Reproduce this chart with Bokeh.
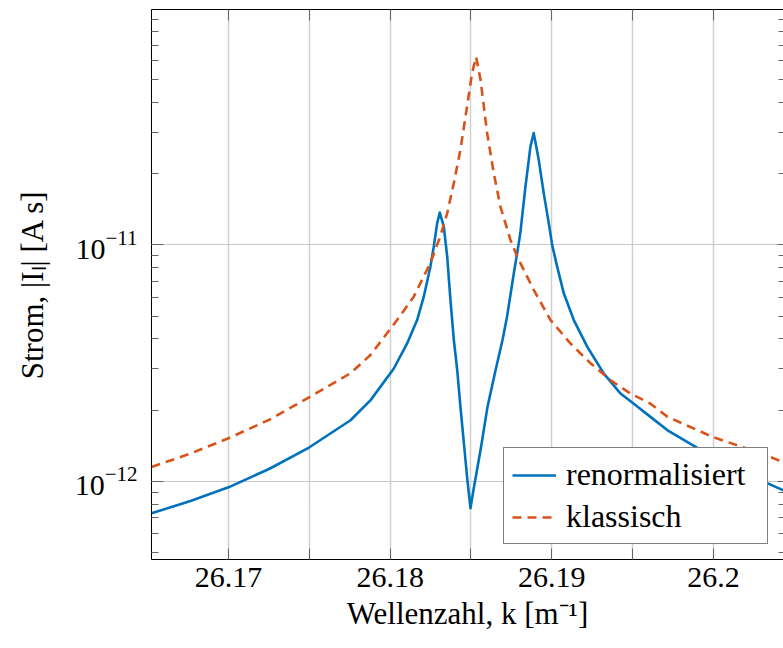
from bokeh.plotting import figure
from bokeh.models import (Range1d, FixedTicker, CustomJSTickFormatter, LinearAxis,
                          LogAxis, LogTicker, Legend, LegendItem)
from bokeh.embed import file_html
from bokeh.resources import INLINE

# ---- data ----
k_ren = [26.16524, 26.16765, 26.17000, 26.17254, 26.17501, 26.17755, 26.17878,
         26.18023, 26.18105, 26.18167, 26.18208, 26.18249, 26.18270, 26.18291,
         26.18307, 26.18332, 26.18353, 26.18373, 26.18394, 26.18415, 26.18435,
         26.18478, 26.18497, 26.18515, 26.18559, 26.18602, 26.18652, 26.18695,
         26.18723, 26.18765, 26.18794, 26.18806, 26.18837, 26.18868, 26.18888,
         26.18919, 26.18950, 26.18981, 26.19002, 26.19033, 26.19074, 26.19136,
         26.19219, 26.19321, 26.19425, 26.19507, 26.19610, 26.19716, 26.20000,
         26.20291, 26.20433]
i_ren = [7.32e-13, 8.26e-13, 9.43e-13, 1.13e-12, 1.393e-12, 1.813e-12, 2.20e-12,
         3.00e-12, 3.83e-12, 4.81e-12, 6.04e-12, 8.09e-12, 9.84e-12, 1.236e-11,
         1.370e-11, 1.195e-11, 8.92e-12, 5.85e-12, 3.96e-12, 2.95e-12, 2.06e-12,
         1.01e-12, 7.69e-13, 9.16e-13, 1.353e-12, 2.06e-12, 2.95e-12, 3.96e-12,
         4.97e-12, 7.59e-12, 1.0e-11, 1.135e-11, 1.766e-11, 2.61e-11, 2.973e-11,
         2.29e-11, 1.656e-11, 1.236e-11, 1.0e-11, 8.09e-12, 6.24e-12, 4.81e-12,
         3.71e-12, 2.86e-12, 2.35e-12, 2.13e-12, 1.873e-12, 1.644e-12, 1.264e-12,
         1.01e-12, 9.16e-13]

k_kla = [26.16524, 26.16765, 26.17000, 26.17254, 26.17501, 26.17755, 26.17878,
         26.17940, 26.18043, 26.18146, 26.18249, 26.18311, 26.18353, 26.18394,
         26.18435, 26.18476, 26.18507, 26.18532, 26.18559, 26.18600, 26.18641,
         26.18682, 26.18744, 26.18786, 26.18806, 26.18888, 26.18992, 26.19115,
         26.19239, 26.19363, 26.19487, 26.19610, 26.19716, 26.20000, 26.20291,
         26.20433]
i_kla = [1.150e-12, 1.31e-12, 1.521e-12, 1.824e-12, 2.27e-12, 2.867e-12, 3.42e-12,
         3.89e-12, 4.81e-12, 6.04e-12, 8.39e-12, 1.092e-11, 1.362e-11, 1.826e-11,
         2.53e-11, 3.86e-11, 5.34e-11, 6.24e-11, 5.0e-11, 2.97e-11, 2.01e-11,
         1.453e-11, 1.05e-11, 8.92e-12, 8.37e-12, 6.45e-12, 4.81e-12, 3.83e-12,
         3.16e-12, 2.68e-12, 2.35e-12, 2.13e-12, 1.873e-12, 1.536e-12, 1.315e-12,
         1.204e-12]

x_major = [26.17, 26.18, 26.19, 26.20]
x_minor = [26.165, 26.175, 26.185, 26.195, 26.205]
labels = ["renormalisiert", "klassisch"]

FONT = "Liberation Serif"
FS = "30px"
FS_LAB = "31px"
BLUE = "#0072BD"
ORANGE = "#D95319"
TICK = "#666666"

p = figure(width=783, height=648, y_axis_type="log",
           x_range=Range1d(26.16524, 26.20433), y_range=Range1d(4.67e-13, 9.9e-11),
           output_backend="svg", toolbar_location=None,
           min_border_left=151, min_border_right=0, min_border_top=9,
           min_border_bottom=89)
p.outline_line_color = None
p.background_fill_color = "white"

xt = FixedTicker(ticks=x_major, minor_ticks=x_minor)
fmt = CustomJSTickFormatter(code="return Number(tick.toFixed(3)).toString();")
blank = CustomJSTickFormatter(code="return '';")

xa = p.xaxis[0]
xa.ticker = xt
xa.formatter = fmt
ya = p.yaxis[0]
ya.ticker = LogTicker(num_minor_ticks=10)

for ax in (xa, ya):
    ax.major_label_text_font = FONT
    ax.major_label_text_font_size = FS
    ax.major_label_text_color = "black"
    ax.axis_label_text_font = FONT
    ax.axis_label_text_font_size = FS_LAB
    ax.axis_label_text_font_style = "normal"
    ax.axis_label_text_color = "black"
    ax.axis_line_color = "black"
    ax.axis_line_width = 1
    ax.major_tick_out = 0
    ax.minor_tick_out = 0
    ax.major_tick_line_color = TICK
    ax.minor_tick_line_color = TICK

xa.axis_label = "Wellenzahl, k [m\u207b\u00b9]"
xa.major_tick_in = 11
xa.minor_tick_in = 11
xa.major_label_standoff = 8
xa.axis_label_standoff = 6

ya.axis_label = "Strom, |I\u2097| [A s]"
ya.major_tick_in = 12
ya.minor_tick_in = 7
ya.major_label_standoff = 14
ya.axis_label_standoff = 22

# top axis (ticks only)
top = LinearAxis(ticker=xt, formatter=blank, major_label_text_font_size="1px",
                 major_label_standoff=0, axis_line_color="black",
                 major_tick_in=11, major_tick_out=0, minor_tick_in=11, minor_tick_out=0,
                 major_tick_line_color=TICK, minor_tick_line_color=TICK)
p.add_layout(top, "above")

# right axis (ticks only; the reference's right border lies outside the picture)
right = LogAxis(ticker=LogTicker(num_minor_ticks=10), formatter=blank,
                major_label_text_font_size="1px", major_label_standoff=0,
                axis_line_color=None,
                major_tick_in=6, major_tick_out=0, minor_tick_in=5, minor_tick_out=0,
                major_tick_line_color=TICK, minor_tick_line_color=TICK)
p.add_layout(right, "right")

p.xgrid.ticker = xt
p.xgrid.grid_line_color = "#d0d0d0"
p.xgrid.grid_line_width = 1.5
p.xgrid.minor_grid_line_color = "#d0d0d0"
p.xgrid.minor_grid_line_width = 1.5
p.ygrid.grid_line_color = "#c8c8c8"
p.ygrid.grid_line_width = 1.2
p.ygrid.minor_grid_line_color = None

r1 = p.line(k_ren, i_ren, line_color=BLUE, line_width=2.6, line_join="round")
r2 = p.line(k_kla, i_kla, line_color=ORANGE, line_width=2.6, line_dash="9 6")

legend = Legend(items=[LegendItem(label=labels[0], renderers=[r1]),
                       LegendItem(label=labels[1], renderers=[r2])],
                location="bottom_right", orientation="vertical")
legend.label_text_font = FONT
legend.label_text_font_size = "32px"
legend.label_text_color = "black"
legend.border_line_color = "black"
legend.border_line_width = 1
legend.background_fill_color = "white"
legend.background_fill_alpha = 1.0
legend.padding = 8
legend.spacing = 5
legend.margin = 15
legend.glyph_width = 44
legend.glyph_height = 32
legend.label_height = 32
legend.label_width = 193
legend.label_standoff = 10
p.add_layout(legend, "center")

open("out.html", "w").write(file_html(p, INLINE))
